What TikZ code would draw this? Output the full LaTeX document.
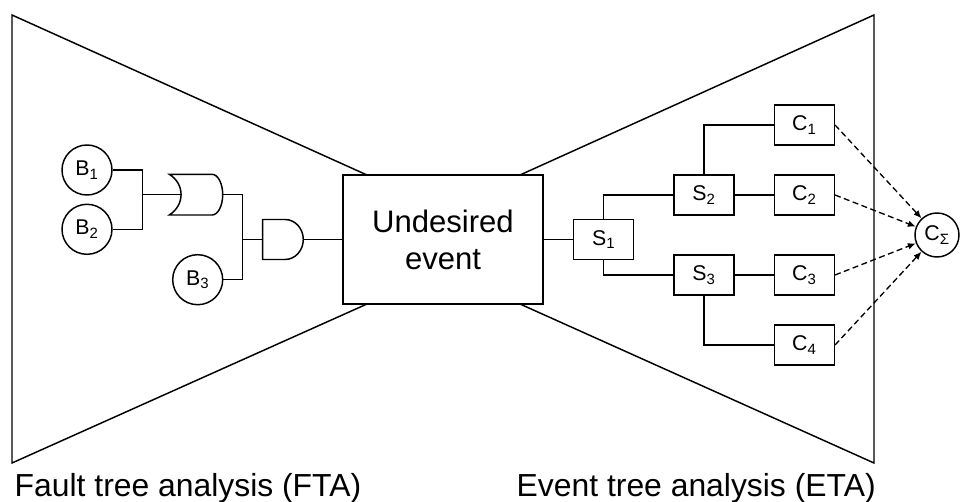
\documentclass[tikz,border=0pt]{standalone}
\usepackage{fontspec}
\setmainfont{Liberation Sans}
\usetikzlibrary{arrows.meta}
\begin{document}
\begin{tikzpicture}[x=0.75pt,y=-0.75pt,
  line width=1.1pt,
  basic/.style={draw, circle, minimum size=37.5pt, inner sep=0pt,
    font=\fontsize{16}{18}\selectfont},
  branch/.style={draw, rectangle, minimum width=45pt, minimum height=30pt,
    inner sep=0pt, font=\fontsize{16}{18}\selectfont},
  topevent/.style={draw, rectangle, minimum width=150pt, minimum height=96.75pt,
    inner sep=0pt, align=center, font=\fontsize{23.3}{27.75}\selectfont},
  flow/.style={line width=1pt, dash pattern=on 4.5pt off 2.6pt,
    -{Latex[length=6pt,width=5pt]}},
  caption/.style={anchor=base west, inner sep=0pt,
    font=\fontsize{23.9}{28}\selectfont}
]
\useasboundingbox (0,0) rectangle (965,502);

% bow-tie outline
\draw (367,175) -- (12,15) -- (12,463) -- (367,304);
\draw (520,175) -- (874,15) -- (874,463) -- (520,304);

% top event
\node[topevent, fill=white] (ue) at (443,239.5) {Undesired\\event};

% fault tree: basic events
\node[basic] (b1) at (87,170) {B\textsubscript{1}};
\node[basic] (b2) at (87,229.3) {B\textsubscript{2}};
\node[basic] (b3) at (197.7,279.7) {B\textsubscript{3}};

% OR gate
\draw (169.3,174.3) -- (212,174.3)
  arc[start angle=-90, end angle=90, x radius=10.7, y radius=20.35]
  -- (169.3,215) .. controls (185,205) and (185,184) .. cycle;
\coordinate (or-in) at (181,194.65);
\coordinate (or-out) at (222.7,194.65);

% AND gate
\draw (262.7,219.5) -- (285,219.5)
  arc[start angle=-90, end angle=90, x radius=18.3, y radius=20]
  -- (262.7,259.5) -- cycle;
\coordinate (and-in) at (262.7,239.5);
\coordinate (and-out) at (303.3,239.5);

% fault tree wiring
\coordinate (j1) at (142.3,194.65);
\coordinate (j2) at (242.3,239.5);
\draw (b1.east) -| (j1) |- (b2.east);
\draw (j1) -- (or-in);
\draw (or-out) -| (j2) |- (b3.east);
\draw (j2) -- (and-in);
\draw (and-out) -- (ue.west);

% event tree
\node[branch] (s1) at (603.7,239.5) {S\textsubscript{1}};
\node[branch] (s2) at (704,195) {S\textsubscript{2}};
\node[branch] (s3) at (704,275) {S\textsubscript{3}};
\node[branch] (c1) at (804.3,125) {C\textsubscript{1}};
\node[branch] (c2) at (804.3,195) {C\textsubscript{2}};
\node[branch] (c3) at (804.3,275) {C\textsubscript{3}};
\node[branch] (c4) at (804.3,345) {C\textsubscript{4}};
\node[basic, minimum size=33pt] (cs) at (937,235) {C\textsubscript{Σ}};

\draw (ue.east) -- (s1.west);
\draw (s1.north) |- (s2.west);
\draw (s1.south) |- (s3.west);
\draw (s2.north) |- (c1.west);
\draw (s2.east) -- (c2.west);
\draw (s3.east) -- (c3.west);
\draw (s3.south) |- (c4.west);

% consequences summed up
\draw[flow] (c1.east) -- (cs);
\draw[flow] (c2.east) -- (cs);
\draw[flow] (c3.east) -- (cs);
\draw[flow] (c4.east) -- (cs);

% captions
\node[caption] (fta) at (14,497) {Fault tree analysis (FTA)};
\node[caption] (eta) at (516,497) {Event tree analysis (ETA)};
\end{tikzpicture}
\end{document}
